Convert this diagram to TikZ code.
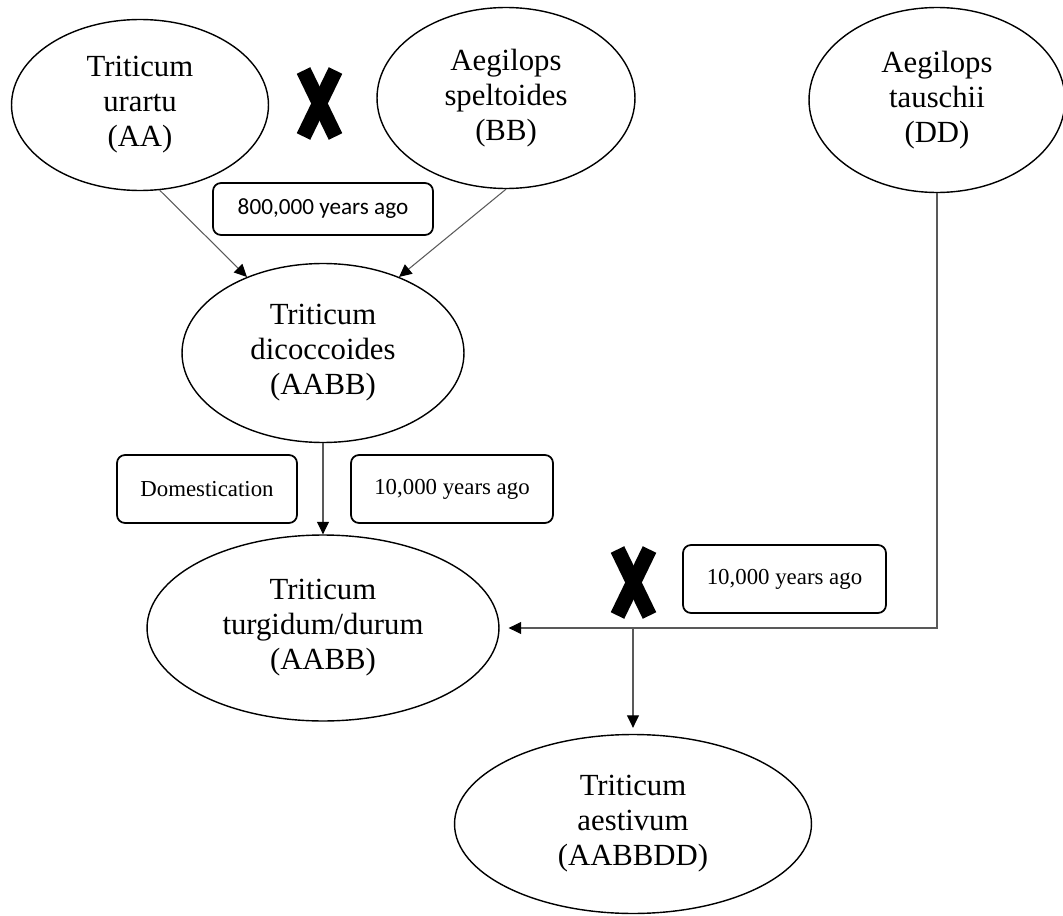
\documentclass[tikz,border=0pt]{standalone}
\usepackage{fontspec}
\setmainfont{Liberation Serif}
\newfontfamily\labelsans{Carlito}
\usetikzlibrary{shapes.geometric, arrows.meta, positioning}
\definecolor{linkgray}{HTML}{595959}

\begin{document}
\begin{tikzpicture}[x=0.02cm, y=-0.02cm,
  species/.style={ellipse, draw, line width=0.8pt, inner sep=0pt, align=center,
    font=\fontsize{17.5}{19.9}\selectfont},
  datebox/.style={draw, rounded corners=0.16cm, line width=1pt, inner sep=0pt,
    font=\fontsize{13}{15}\selectfont},
  link/.style={draw=linkgray, line width=0.6pt,
    -{Triangle[length=0.25cm, width=0.24cm, color=black]}},
  crossmark/.pic={
    \draw[line width=0.3cm] (-16,-33) -- (16,33);
    \draw[line width=0.3cm] (-16,33) -- (16,-33);
  }]
  \useasboundingbox (0,0) rectangle (1063,916);

  % parent species (top row)
  \node[species, minimum width=5.14cm, minimum height=3.42cm] (urartu) at (140,105) {Triticum\\urartu\\(AA)};
  \node[species, minimum width=5.16cm, minimum height=3.62cm] (speltoides) at (506,98) {Aegilops\\speltoides\\(BB)};
  \node[species, minimum width=5.12cm, minimum height=3.70cm] (tauschii) at (937,100) {Aegilops\\tauschii\\(DD)};
  \pic at (319.5,103.5) {crossmark};

  % tetraploids
  \node[species, minimum width=5.64cm, minimum height=3.58cm] (dicocc) at (323,353) {Triticum\\dicoccoides\\(AABB)};
  \node[species, minimum width=7.04cm, minimum height=3.72cm] (durum) at (323,628) {Triticum\\turgidum/durum\\(AABB)};

  % hexaploid
  \node[species, minimum width=7.14cm, minimum height=3.58cm] (aestivum) at (633,824) {Triticum\\aestivum\\(AABBDD)};
  \pic at (633.5,582.5) {crossmark};

  % date boxes
  \node[datebox, font=\labelsans\fontsize{13.2}{15}\selectfont, minimum width=4.4cm, minimum height=1.04cm] (ago800) at (323,209) {800,000 years ago};
  \node[datebox, minimum width=3.6cm, minimum height=1.36cm] (domest) at (207,489) {Domestication};
  \node[datebox, minimum width=4.04cm, minimum height=1.36cm] (agotenA) at (452,489) {10,000 years ago};
  \node[datebox, minimum width=4.06cm, minimum height=1.36cm] (agotenB) at (784.5,579) {10,000 years ago};

  % connectors
  \draw[link] (urartu.-77) -- (dicocc.135);
  \draw[link] (speltoides.south) -- (dicocc.45);
  \draw[link] (dicocc) -- (durum);
  \coordinate (join) at (aestivum.north |- durum.east);
  \draw[link, shorten >=0.18cm] (tauschii.south) |- (durum.east);
  \draw[link, shorten >=0.12cm] (join) -- (aestivum.north);
\end{tikzpicture}
\end{document}
